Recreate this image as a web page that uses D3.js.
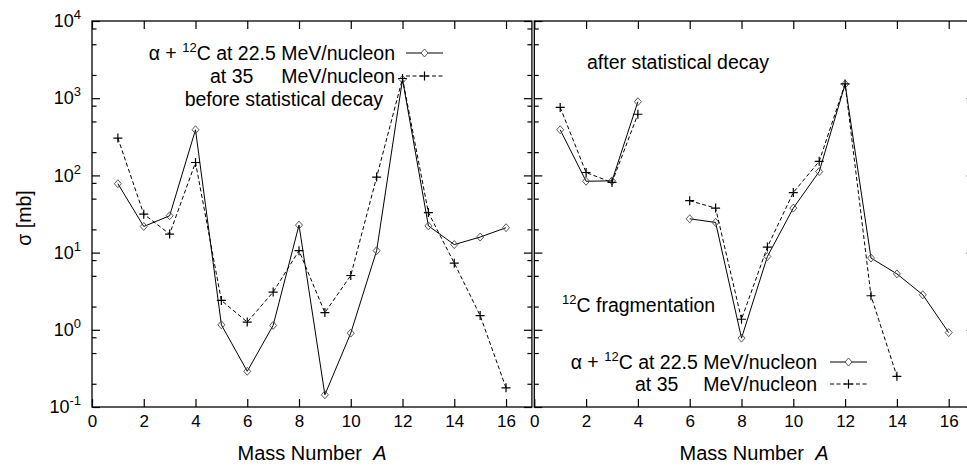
<!DOCTYPE html>
<html>
<head>
<meta charset="utf-8">
<script src="https://cdn.jsdelivr.net/npm/d3@7"></script>
<style>
  body { margin: 0; background: #fff; }
  svg { display: block; font-family: "Liberation Sans", Arial, sans-serif; }
  .tick line { stroke: #000; stroke-width: 1.2; }
</style>
</head>
<body>
<div id="vis"></div>
<script>
const width = 967;
const height = 468;

// mass numbers
const massAll = [1, 2, 3, 4, 5, 6, 7, 8, 9, 10, 11, 12, 13, 14, 15, 16];

// before statistical decay (mb)
const before225 = [78, 21.8, 30, 390, 1.16, 0.29, 1.14, 22.7, 0.144, 0.905, 10.6, 1750, 22.2, 12.7, 15.9, 21];
const before35 = [304, 31.5, 17.4, 147, 2.4, 1.26, 3.08, 10.6, 1.67, 5.05, 95, 1800, 33, 7.3, 1.53, 0.177];

// after statistical decay (mb), null = no point
const after225 = [390, 84, 85, 900, null, 27.4, 24.6, 0.78, 8.9, 37.7, 112, 1520, 8.5, 5.3, 2.84, 0.92];
const after35 = [760, 109, 81, 620, null, 47, 37.7, 1.37, 11.8, 60, 152, 1530, 2.76, 0.25, null, null];

const xTicks = [0, 2, 4, 6, 8, 10, 12, 14, 16];
const yMajor = [0.1, 1, 10, 100, 1000, 10000];
const yMinor = [0.2, 0.5, 0.8, 2, 5, 8, 20, 50, 80, 200, 500, 800, 2000, 5000, 8000];

const plotTop = 21, plotBottom = 407;

const svg = d3.select("#vis").append("svg")
    .attr("width", width)
    .attr("height", height);

const y = d3.scaleLog().domain([0.1, 10000]).range([plotBottom, plotTop]);

const panels = [
    { x: d3.scaleLinear().domain([0, 17]).range([92, 531.9]), yLabels: true },
    { x: d3.scaleLinear().domain([0, 17]).range([534.3, 974.6]), yLabels: false }
];

function supLabel(sel, base, exp) {
    sel.append("tspan").text(base);
    sel.append("tspan").attr("font-size", "13px").attr("dy", "-8").text(exp);
}

panels.forEach(p => {
    const [x0, x1] = p.x.range();
    const g = svg.append("g");

    // bottom axis with labels
    const bx = g.append("g")
        .attr("transform", `translate(0,${plotBottom})`)
        .call(d3.axisBottom(p.x).tickValues(xTicks).tickSizeInner(-8).tickSizeOuter(0).tickPadding(8).tickFormat(d3.format("d")));
    bx.select(".domain").remove();
    bx.selectAll(".tick text").attr("font-size", "17px").attr("fill", "#000").attr("font-family", null);

    // top mirror ticks
    const tx = g.append("g")
        .attr("transform", `translate(0,${plotTop})`)
        .call(d3.axisTop(p.x).tickValues(xTicks).tickSizeInner(-8).tickSizeOuter(0).tickFormat(""));
    tx.select(".domain").remove();

    // y ticks left and right
    [[x0, 1], [x1, -1]].forEach(([xp, dir]) => {
        const axMaj = g.append("g")
            .attr("transform", `translate(${xp},0)`)
            .call(d3.axisLeft(y).tickValues(yMajor).tickSizeInner(-8 * dir).tickSizeOuter(0).tickPadding(10).tickFormat(""));
        axMaj.select(".domain").remove();
        const axMin = g.append("g")
            .attr("transform", `translate(${xp},0)`)
            .call(d3.axisLeft(y).tickValues(yMinor).tickSizeInner(-4.5 * dir).tickSizeOuter(0).tickFormat(""));
        axMin.select(".domain").remove();
        axMin.selectAll(".tick line").attr("stroke-width", 1);

        if (p.yLabels && dir === 1) {
            axMaj.selectAll(".tick text")
                .attr("font-size", "18px").attr("fill", "#000").attr("font-family", null)
                .attr("dy", "0.32em")
                .each(function (d) {
                    supLabel(d3.select(this).attr("x", -11), "10", Math.round(Math.log10(d)));
                });
        }
    });

    // frame
    g.append("rect")
        .attr("x", x0).attr("y", plotTop)
        .attr("width", x1 - x0).attr("height", plotBottom - plotTop)
        .attr("fill", "none").attr("stroke", "#000").attr("stroke-width", 1.3);
});

function drawSeries(panel, values, dashed) {
    const pts = massAll.map((m, i) => ({ m: m, v: values[i] }));
    const line = d3.line()
        .defined(d => d.v != null)
        .x(d => panel.x(d.m))
        .y(d => y(d.v));
    svg.append("path")
        .datum(pts)
        .attr("d", line)
        .attr("fill", "none")
        .attr("stroke", "#000")
        .attr("stroke-width", 1)
        .attr("stroke-dasharray", dashed ? "4,2.5" : null);
    const valid = pts.filter(d => d.v != null);
    if (dashed) {
        svg.append("g").selectAll("path").data(valid).enter().append("path")
            .attr("d", d => { const cx = panel.x(d.m), cy = y(d.v); return `M${cx - 4.5},${cy}H${cx + 4.5}M${cx},${cy - 4.5}V${cy + 4.5}`; })
            .attr("stroke", "#000").attr("stroke-width", 1.2);
    } else {
        svg.append("g").selectAll("path").data(valid).enter().append("path")
            .attr("d", d => { const cx = panel.x(d.m), cy = y(d.v); return `M${cx},${cy - 4}L${cx + 3.5},${cy}L${cx},${cy + 4}L${cx - 3.5},${cy}Z`; })
            .attr("fill", "none").attr("stroke", "#444").attr("stroke-width", 0.9);
    }
}

drawSeries(panels[0], before225, false);
drawSeries(panels[0], before35, true);
drawSeries(panels[1], after225, false);
drawSeries(panels[1], after35, true);

// legend
function legend(xEnd, xStart2, y1, y2, lx0, lx1) {
    const t1 = svg.append("text").attr("x", xEnd).attr("y", y1 + 7).attr("text-anchor", "end").attr("font-size", "19.5px");
    t1.append("tspan").text("\u03b1 + ");
    t1.append("tspan").attr("font-size", "13px").attr("dy", "-8").text("12");
    t1.append("tspan").attr("dy", "8").text("C at 22.5 MeV/nucleon");
    svg.append("text").attr("x", xStart2).attr("y", y2 + 7).attr("font-size", "19.5px").text("at 35");
    svg.append("text").attr("x", xEnd).attr("y", y2 + 7).attr("text-anchor", "end").attr("font-size", "19.5px").text("MeV/nucleon");

    svg.append("line").attr("x1", lx0).attr("x2", lx1).attr("y1", y1).attr("y2", y1)
        .attr("stroke", "#000").attr("stroke-width", 1);
    const cx = (lx0 + lx1) / 2;
    svg.append("path").attr("d", `M${cx},${y1 - 4}L${cx + 3.5},${y1}L${cx},${y1 + 4}L${cx - 3.5},${y1}Z`)
        .attr("fill", "#fff").attr("stroke", "#444").attr("stroke-width", 0.9);
    svg.append("line").attr("x1", lx0).attr("x2", lx1).attr("y1", y2).attr("y2", y2)
        .attr("stroke", "#000").attr("stroke-width", 1).attr("stroke-dasharray", "4,2.5");
    svg.append("path").attr("d", `M${cx - 4.5},${y2}H${cx + 4.5}M${cx},${y2 - 4.5}V${y2 + 4.5}`)
        .attr("stroke", "#000").attr("stroke-width", 1.2);
}

legend(395, 210, 53, 76, 406, 443);
svg.append("text").attr("x", 383).attr("y", 106).attr("text-anchor", "end").attr("font-size", "19.5px")
    .text("before statistical decay");

legend(817, 635, 362, 384, 830, 867);
svg.append("text").attr("x", 587).attr("y", 69).attr("font-size", "19.5px").text("after statistical decay");
const frag = svg.append("text").attr("x", 562).attr("y", 312).attr("font-size", "19.5px");
frag.append("tspan").attr("font-size", "13px").attr("dy", "-8").text("12");
frag.append("tspan").attr("dy", "8").text("C fragmentation");

// axis titles
[panels[0], panels[1]].forEach(p => {
    const cx = p === panels[0] ? 312 : 754;
    const t = svg.append("text").attr("x", cx).attr("y", 460).attr("text-anchor", "middle")
        .attr("font-size", "20px").attr("xml:space", "preserve");
    t.append("tspan").text("Mass Number  ");
    t.append("tspan").attr("font-style", "italic").text("A");
});

svg.append("text")
    .attr("transform", "translate(31,218) rotate(-90)")
    .attr("text-anchor", "middle")
    .attr("font-size", "19.5px")
    .text("\u03c3 [mb]");
</script>
</body>
</html>
